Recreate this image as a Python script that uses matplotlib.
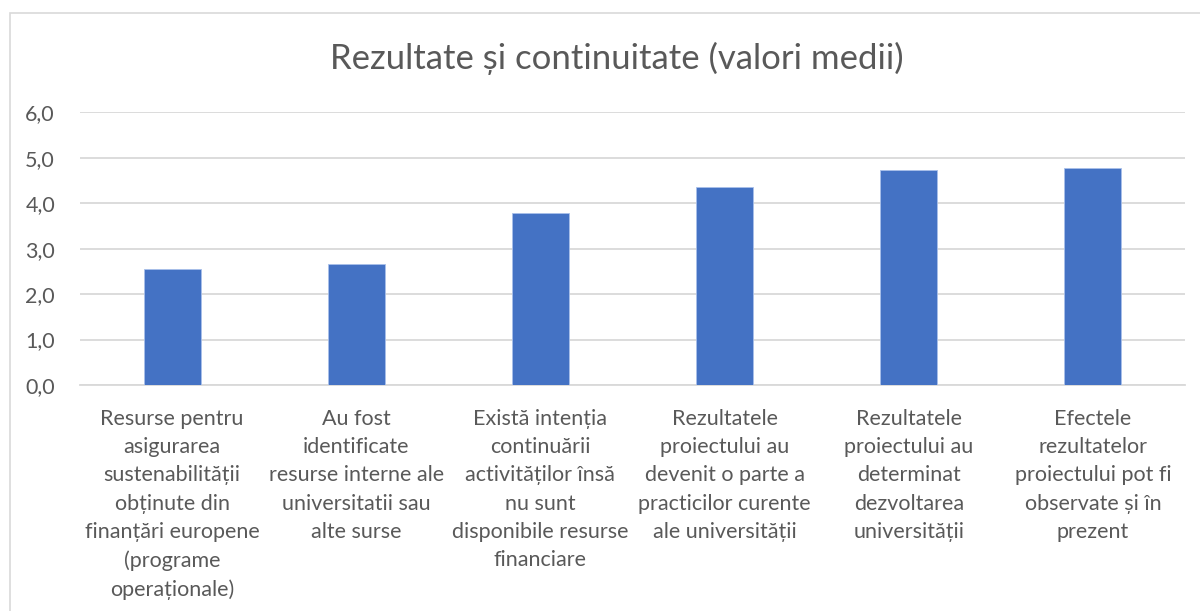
import matplotlib.pyplot as plt
from matplotlib.patches import Rectangle
from matplotlib.ticker import FuncFormatter

categories = [
    "Resurse pentru\nasigurarea\nsustenabilității\nobținute din\nfinanțări europene\n(programe\noperaționale)",
    "Au fost\nidentificate\nresurse interne ale\nuniversitatii sau\nalte surse",
    "Există intenția\ncontinuării\nactivităților însă\nnu sunt\ndisponibile resurse\nfinanciare",
    "Rezultatele\nproiectului au\ndevenit o parte a\npracticilor curente\nale universității",
    "Rezultatele\nproiectului au\ndeterminat\ndezvoltarea\nuniversității",
    "Efectele\nrezultatelor\nproiectului pot fi\nobservate și în\nprezent",
]
values = [2.55, 2.67, 3.78, 4.36, 4.74, 4.77]
y_ticks = [0, 1, 2, 3, 4, 5, 6]

plt.rcParams['font.family'] = ['Lato', 'DejaVu Sans']
text_color = "#595959"

fig = plt.figure(figsize=(12, 6.11), dpi=100)

# light chart-area border
fig.patches.append(Rectangle((10 / 1200, -0.1), 1.2, 1 - 13 / 611 + 0.1,
                             transform=fig.transFigure, fill=False,
                             edgecolor="#d9d9d9", linewidth=1.2))

ax = fig.add_axes([80 / 1200, 1 - 385 / 611, 1105 / 1200, (385 - 112.3) / 611])
x = range(len(categories))
ax.bar(x, values, width=0.31, color="#4472c4", edgecolor="#a9c0ea", linewidth=0.6, zorder=3)

ax.set_xlim(-0.5, len(categories) - 0.5)
ax.set_ylim(0, 6)
ax.set_yticks(y_ticks)
ax.yaxis.set_major_formatter(FuncFormatter(lambda v, p: f"{v:.1f}".replace(".", ",")))
ax.set_xticks(list(x))
ax.set_xticklabels(categories, linespacing=1.52)

ax.grid(axis="y", color="#d9d9d9", linewidth=1.3, zorder=0)
for side in ["top", "right", "left"]:
    ax.spines[side].set_visible(False)
ax.spines["bottom"].set_color("#d9d9d9")
ax.spines["bottom"].set_linewidth(1.3)
ax.tick_params(axis="both", length=0, colors=text_color, labelsize=15.5)
ax.tick_params(axis="y", pad=18)
ax.tick_params(axis="x", pad=17)

fig.text(0.514, 1 - 58 / 611, "Rezultate și continuitate (valori medii)",
         ha="center", va="center", fontsize=25, color=text_color)

fig.savefig("out.png", dpi=100)
